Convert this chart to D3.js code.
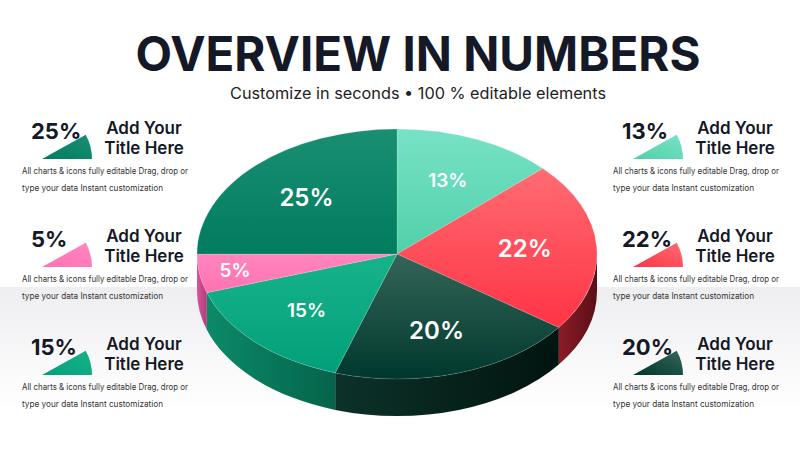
<!DOCTYPE html>
<html>
<head>
<meta charset="utf-8">
<script src="https://cdn.jsdelivr.net/npm/d3@7"></script>
<style>
  html, body { margin: 0; padding: 0; background: #fff; }
  svg { display: block; font-family: Inter, "Noto Sans", sans-serif; }
</style>
</head>
<body>
<div id="chart"></div>
<script>
// slice data, clockwise from 12 o'clock
const sliceLabels = ["13%", "22%", "20%", "15%", "5%", "25%"];
const sliceValues = [13, 22, 20, 15, 5, 25];

// palette: [top-light, top-dark, side-light, side-dark]
const palette = [
  ["#78e2c6", "#50d0a9", "#3fb58f", "#2a9a77"],
  ["#ff6c72", "#ff3346", "#8c1c27", "#5a0f17"],
  ["#356558", "#00382d", "#0c3229", "#02140f"],
  ["#17b38b", "#02a07a", "#0b8a67", "#05644b"],
  ["#ff86bf", "#ff72b2", "#d8569a", "#b23c7a"],
  ["#1a8f72", "#007c5f", "#0a6e54", "#054d3a"]
];

// side cards: index into the slice arrays
const leftCards = [5, 4, 3];
const rightCards = [0, 1, 2];
const cardTitle = ["Add Your", "Title Here"];
const cardText = ["All charts & icons fully editable Drag, drop or", "type your data Instant customization"];

const titleText = "OVERVIEW IN NUMBERS";
const subtitleText = "Customize in seconds \u2022 100 % editable elements";

const width = 800, height = 450;
const pieCfg = { cx: 397, cy: 254, rx: 200, ry: 125, depth: 37 };

const svg = d3.select("#chart").append("svg")
    .attr("width", width)
    .attr("height", height);

const defs = svg.append("defs");

// background with the soft grey band
const bgGrad = defs.append("linearGradient")
    .attr("id", "bg-band").attr("x1", 0).attr("y1", 0).attr("x2", 0).attr("y2", 1);
bgGrad.append("stop").attr("offset", "0%").attr("stop-color", "#eeeef1");
bgGrad.append("stop").attr("offset", "75%").attr("stop-color", "#ffffff");

svg.append("rect").attr("width", width).attr("height", height).attr("fill", "#ffffff");
svg.append("rect").attr("y", 287).attr("width", width).attr("height", height - 287)
    .attr("fill", "url(#bg-band)");

// gradients per slice
palette.forEach((c, i) => {
  let g = defs.append("linearGradient").attr("id", "top-" + i)
      .attr("x1", 0).attr("y1", 0).attr("x2", 0).attr("y2", 1);
  g.append("stop").attr("offset", "0%").attr("stop-color", c[0]);
  g.append("stop").attr("offset", "100%").attr("stop-color", c[1]);

  let s = defs.append("linearGradient").attr("id", "side-" + i)
      .attr("x1", 0).attr("y1", 0).attr("x2", 1).attr("y2", 0);
  s.append("stop").attr("offset", "0%").attr("stop-color", c[2]);
  s.append("stop").attr("offset", "100%").attr("stop-color", c[3]);

  let w = defs.append("linearGradient").attr("id", "wedge-" + i)
      .attr("x1", 0).attr("y1", 1).attr("x2", 1).attr("y2", 0);
  w.append("stop").attr("offset", "0%").attr("stop-color", c[1]);
  w.append("stop").attr("offset", "100%").attr("stop-color", c[0]);
});

// title
svg.append("text")
    .attr("x", 418).attr("y", 71)
    .attr("text-anchor", "middle")
    .attr("font-size", 48)
    .attr("font-weight", 700)
    .attr("fill", "#151826")
    .attr("textLength", 565)
    .attr("lengthAdjust", "spacingAndGlyphs")
    .text(titleText);

svg.append("text")
    .attr("x", 418).attr("y", 99)
    .attr("text-anchor", "middle")
    .attr("font-size", 15.5)
    .attr("fill", "#222")
    .attr("textLength", 376)
    .attr("lengthAdjust", "spacingAndGlyphs")
    .text(subtitleText);

// ---- 3D pie ----
const pie = d3.pie().sort(null).value(d => d).startAngle(0).endAngle(2 * Math.PI);
const arcs = pie(sliceValues);

// project an angle (0 = 12 o'clock, clockwise) onto the flattened ellipse
function pt(a, r = 1, dy = 0) {
  return [pieCfg.cx + pieCfg.rx * r * Math.sin(a), pieCfg.cy - pieCfg.ry * r * Math.cos(a) + dy];
}

function topPath(a0, a1) {
  let p0 = pt(a0), p1 = pt(a1);
  let large = (a1 - a0) > Math.PI ? 1 : 0;
  return `M${pieCfg.cx},${pieCfg.cy}L${p0}A${pieCfg.rx},${pieCfg.ry} 0 ${large} 1 ${p1}Z`;
}

function sidePath(a0, a1) {
  let d = pieCfg.depth;
  let p0 = pt(a0), p1 = pt(a1), q0 = pt(a0, 1, d), q1 = pt(a1, 1, d);
  return `M${p0}A${pieCfg.rx},${pieCfg.ry} 0 0 1 ${p1}L${q1}A${pieCfg.rx},${pieCfg.ry} 0 0 0 ${q0}Z`;
}

const pieG = svg.append("g");

// front sides only (from 3 o'clock to 9 o'clock)
const front = [Math.PI / 2, 3 * Math.PI / 2];
pieG.selectAll(".side")
  .data(arcs.filter(d => d.endAngle > front[0] && d.startAngle < front[1]))
  .join("path")
    .attr("class", "side")
    .attr("d", d => sidePath(Math.max(d.startAngle, front[0]), Math.min(d.endAngle, front[1])))
    .attr("fill", d => "url(#side-" + d.index + ")");

pieG.selectAll(".top")
  .data(arcs)
  .join("path")
    .attr("class", "top")
    .attr("d", d => topPath(d.startAngle, d.endAngle))
    .attr("fill", d => "url(#top-" + d.index + ")")
    .attr("stroke", "rgba(255,255,255,0.25)")
    .attr("stroke-width", 0.6);

const labelSize = d3.scaleThreshold().domain([18]).range([19, 24]);
const labelRadius = d3.scaleThreshold().domain([10]).range([0.82, 0.64]);

pieG.selectAll(".slice-label")
  .data(arcs)
  .join("text")
    .attr("class", "slice-label")
    .attr("transform", d => {
      let mid = (d.startAngle + d.endAngle) / 2;
      return "translate(" + pt(mid, labelRadius(d.value)) + ")";
    })
    .attr("text-anchor", "middle")
    .attr("dominant-baseline", "central")
    .attr("font-size", d => labelSize(d.value))
    .attr("font-weight", 600)
    .attr("fill", "#fff")
    .text((d, i) => sliceLabels[i]);

// ---- side cards ----
const rowY = d3.scaleLinear().domain([0, 1]).range([131, 239]);
const wedgeArc = d3.arc()
    .innerRadius(0).outerRadius(50)
    .startAngle(61 * Math.PI / 180).endAngle(Math.PI / 2);
const descWidth = [166, 141];

function drawCards(list, x0) {
  let cards = svg.selectAll(null)
    .data(list)
    .join("g")
      .attr("transform", (d, i) => "translate(" + x0 + "," + rowY(i) + ")");

  cards.append("path")
      .attr("transform", "translate(20,28)")
      .attr("d", wedgeArc())
      .attr("fill", d => "url(#wedge-" + d + ")");

  cards.append("text")
      .attr("x", 9).attr("y", 0)
      .attr("dominant-baseline", "central")
      .attr("font-size", 22)
      .attr("font-weight", 700)
      .attr("fill", "#151826")
      .text(d => sliceLabels[d]);

  cardTitle.forEach((t, k) => {
    cards.append("text")
        .attr("x", 122).attr("y", -3 + k * 20)
        .attr("text-anchor", "middle")
        .attr("dominant-baseline", "central")
        .attr("font-size", 17)
        .attr("font-weight", 600)
        .attr("fill", "#151826")
        .text(t);
  });

  cardText.forEach((t, k) => {
    cards.append("text")
        .attr("x", 0).attr("y", 40 + k * 17)
        .attr("dominant-baseline", "central")
        .attr("font-size", 8.4)
        .attr("fill", "#333")
        .attr("textLength", descWidth[k])
        .attr("lengthAdjust", "spacingAndGlyphs")
        .text(t);
  });
}

drawCards(leftCards, 22);
drawCards(rightCards, 613);
</script>
</body>
</html>
